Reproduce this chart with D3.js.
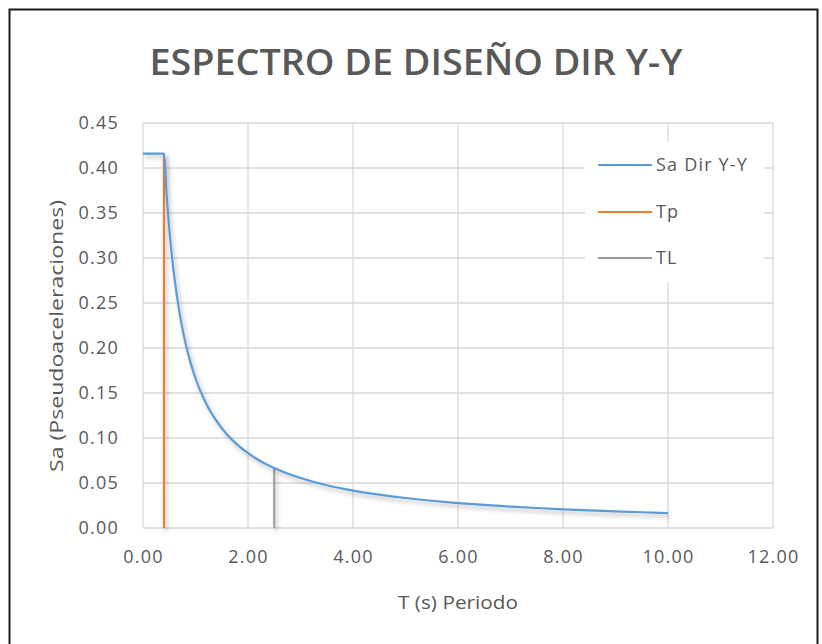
<!DOCTYPE html>
<html><head><meta charset="utf-8">
<script src="https://cdn.jsdelivr.net/npm/d3@7"></script>
<style>html,body{margin:0;padding:0;background:#fff;}</style>
</head><body>
<svg id="chart" width="822" height="644"></svg>
<script>
const title = "ESPECTRO DE DISEÑO DIR Y-Y";
const xLabel = "T (s) Periodo";
const yLabel = "Sa (Pseudoaceleraciones)";
const seriesNames = ["Sa Dir Y-Y", "Tp", "TL"];
const seriesColors = ["#5B9BD5", "#ED7D31", "#A5A5A5"];
const periods = [0, 0.4, 0.45, 0.5, 0.55, 0.6, 0.7, 0.8, 0.9, 1.0, 1.1, 1.2, 1.3, 1.4, 1.5, 1.6, 1.8, 2.0, 2.2, 2.4, 2.5, 2.75, 3.0, 3.5, 4.0, 4.5, 5.0, 5.5, 6.0, 6.5, 7.0, 7.5, 8.0, 8.5, 9.0, 9.5, 10.0];
const saValues = [0.416, 0.416, 0.3698, 0.3328, 0.3025, 0.2773, 0.2377, 0.2080, 0.1849, 0.1664, 0.1513, 0.1387, 0.1280, 0.1189, 0.1109, 0.1040, 0.0924, 0.0832, 0.0756, 0.0693, 0.0666, 0.0605, 0.0555, 0.0475, 0.0416, 0.0370, 0.0333, 0.0303, 0.0277, 0.0256, 0.0238, 0.0222, 0.0208, 0.0196, 0.0185, 0.0175, 0.0166];
const tpT = [0.4, 0.4];
const tpSa = [0, 0.416];
const tlT = [2.5, 2.5];
const tlSa = [0, 0.0666];
const xTicks = [0, 2, 4, 6, 8, 10, 12];
const yTicks = [0, 0.05, 0.10, 0.15, 0.20, 0.25, 0.30, 0.35, 0.40, 0.45];

const svg = d3.select("#chart");
const txt = "#595959";
const font = "'Open Sans', sans-serif";

// frame
svg.append("path").attr("d", "M9.5,650 V9.5 H817.5 V650")
  .attr("fill", "none").attr("stroke", "#1a1a1a").attr("stroke-width", 2);

const x = d3.scaleLinear().domain([0, 12]).range([143, 773]);
const y = d3.scaleLinear().domain([0, 0.45]).range([528, 123]);

const defs = svg.append("defs");
const f = defs.append("filter").attr("id", "sh").attr("filterUnits", "userSpaceOnUse")
  .attr("x", 0).attr("y", 0).attr("width", 822).attr("height", 644);
f.append("feDropShadow").attr("dx", 2).attr("dy", 3).attr("stdDeviation", 2.2)
  .attr("flood-color", "#000").attr("flood-opacity", 0.28);

// grid
const g = svg.append("g");
g.selectAll(".hg").data(yTicks).enter().append("line")
  .attr("x1", x(0)).attr("x2", x(12)).attr("y1", d => y(d)).attr("y2", d => y(d))
  .attr("stroke", "#D9D9D9").attr("stroke-width", 1.3);
g.selectAll(".vg").data(xTicks).enter().append("line")
  .attr("y1", y(0)).attr("y2", y(0.45)).attr("x1", d => x(d)).attr("x2", d => x(d))
  .attr("stroke", "#D9D9D9").attr("stroke-width", 1.3);

// axes (labels only)
const xAxis = d3.axisBottom(x).tickValues(xTicks).tickFormat(d3.format(".2f")).tickSize(0).tickPadding(22);
const yAxis = d3.axisLeft(y).tickValues(yTicks).tickFormat(d3.format(".2f")).tickSize(0).tickPadding(24);
const xa = svg.append("g").attr("transform", `translate(0,${y(0)})`).call(xAxis);
const ya = svg.append("g").attr("transform", `translate(${x(0)},0)`).call(yAxis);
[xa, ya].forEach(a => {
  a.select(".domain").remove();
  a.selectAll("text").attr("fill", txt).attr("font-family", font).attr("font-size", 18)
    .attr("letter-spacing", 1.2);
});

// series
const data = periods.map((t, i) => ({t, s: saValues[i]}));
const line = d3.line().x(d => x(d.t)).y(d => y(d.s));
svg.append("path").datum(tpT.map((t, i) => ({t, s: tpSa[i]})))
  .attr("d", line).attr("fill", "none").attr("stroke", seriesColors[1]).attr("stroke-width", 2.2)
  .attr("filter", "url(#sh)");
svg.append("path").datum(tlT.map((t, i) => ({t, s: tlSa[i]})))
  .attr("d", line).attr("fill", "none").attr("stroke", "#999").attr("stroke-width", 2)
  .attr("filter", "url(#sh)");
svg.append("path").datum(data)
  .attr("d", d3.line().x(d => x(d.t)).y(d => y(d.s)).curve(d3.curveMonotoneX))
  .attr("fill", "none").attr("stroke", seriesColors[0]).attr("stroke-width", 2.2)
  .attr("filter", "url(#sh)");

// legend
const leg = svg.append("g");
leg.append("rect").attr("x", 585).attr("y", 142).attr("width", 179).attr("height", 140).attr("fill", "#fff");
const legY = [165, 212, 258];
seriesNames.forEach((n, i) => {
  leg.append("line").attr("x1", 598).attr("x2", 652).attr("y1", legY[i]).attr("y2", legY[i])
    .attr("stroke", i === 2 ? "#999" : seriesColors[i]).attr("stroke-width", 2.2);
  leg.append("text").attr("x", 656).attr("y", legY[i]).attr("dy", "0.35em")
    .attr("fill", txt).attr("font-family", font).attr("font-size", 18)
    .attr("letter-spacing", 1.2).text(n);
});

// title
svg.append("text").attr("x", 416).attr("y", 75).attr("text-anchor", "middle")
  .attr("fill", txt).attr("font-family", font).attr("font-weight", 600)
  .attr("font-size", 36).attr("textLength", 533).attr("lengthAdjust", "spacingAndGlyphs").text(title);

// axis titles
svg.append("text").attr("x", 458).attr("y", 609).attr("text-anchor", "middle")
  .attr("fill", txt).attr("font-family", font).attr("font-size", 18)
  .attr("textLength", 120).attr("lengthAdjust", "spacingAndGlyphs").text(xLabel);
svg.append("text").attr("transform", "translate(63,336) rotate(-90)").attr("text-anchor", "middle")
  .attr("fill", txt).attr("font-family", font).attr("font-size", 18)
  .attr("textLength", 272).attr("lengthAdjust", "spacingAndGlyphs").text(yLabel);
</script>
</body></html>
